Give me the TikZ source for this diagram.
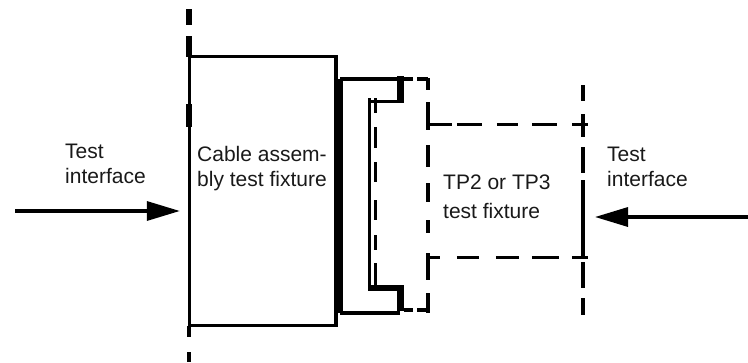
\documentclass[tikz,border=0pt]{standalone}
\usepackage{fontspec}
\setmainfont{Liberation Sans}
\usetikzlibrary{arrows.meta}
\tikzset{
  solidln/.style={line width=3.3pt},
  dashln/.style={line width=3.3pt},
  arr/.style={line width=3.3pt,-{Triangle[length=33pt,width=19pt]}},
  lbl/.style={inner sep=0pt,align=left,anchor=base west,text=black!90,font=\fontsize{21}{25}\selectfont},
  blk/.style={fill=black,draw=none},
}
\begin{document}
\begin{tikzpicture}[x=1pt,y=-1pt]
\useasboundingbox (0,0) rectangle (748,362);
% cable assembly test fixture
\node[draw,solidln,minimum width=146.5pt,minimum height=269pt,inner sep=0pt] (cab) at (262.75,191.2) {};
\node[lbl] (cabtxt) at (197,186) {Cable assem-\\bly test fixture};
% left reference plane segments
\foreach \a/\b/\w in {9/25/6,36/57/6,104/127/6,326/337/4,352/362/4}
  \draw[line width=\w pt] (189,\a) -- (189,\b);
% connector (solid)
\coordinate (c1) at (340,79);
\coordinate (c2) at (340,313);
\draw[line width=5pt] (c1) -- (c2);
\draw[solidln] (c1) -- (400,79);
\draw[solidln] (c2) -- (400,313);
\fill[blk] (396.7,75.7) rectangle (404,101.7);
\fill[blk] (396.7,285) rectangle (404,311);
\fill[blk] (368,285) rectangle (404,291);
\draw[solidln] (369.5,101.7) -- (404,101.7);
\draw[solidln] (369.5,98) -- (369.5,290);
% inner dashed
\draw[dashln,dash pattern=on 15pt off 14pt on 21pt off 14pt on 20pt off 18pt on 20pt off 15pt on 15pt off 13pt on 22pt off 100pt] (375.7,98) -- (375.7,287);
% dashed mating plug outline
\draw[dashln,dash pattern=on 9pt off 4pt on 11pt off 100pt] (404,79) -- (428,79);
\draw[dashln,dash pattern=on 9pt off 4pt on 11pt off 100pt] (404,310) -- (428,310);
\draw[dashln,dash pattern=on 12pt off 12pt on 28pt off 15pt on 22pt off 16pt on 19pt off 18pt on 13pt off 20pt on 27pt off 13pt on 20pt off 100pt] (428,78) -- (428,313);
% TP2/TP3 fixture
\node[minimum width=155pt,minimum height=132pt,inner sep=0pt] (tp) at (505.5,191) {};
\draw[dashln,dash pattern=on 24pt off 5pt on 25pt off 15pt on 21pt off 14pt on 25pt off 15pt on 16pt off 100pt] (tp.north west) -- ++(160,0);
\draw[dashln,dash pattern=on 12pt off 17pt on 22pt off 17pt on 23pt off 13pt on 27pt off 13pt on 16pt off 100pt] (tp.south west) -- ++(160,0);
\draw[dashln,dash pattern=on 16pt off 13pt on 23pt off 10pt on 26pt off 7pt on 77pt off 5pt on 26pt off 10pt on 17pt off 100pt] (583,85) -- (583,315);
\node[lbl] (tptxt) at (443,218) {TP2 or TP3\\[4pt]test fixture};
% test interfaces
\node[lbl] (ltxt) at (65,183) {Test\\interface};
\node[lbl] (rtxt) at (607,186) {Test\\interface};
\coordinate (lin) at (15,211);
\coordinate (rin) at (748,217);
\coordinate (rtip) at (595,217);
\draw[arr,shorten >=8pt] (lin) -- (lin -| cab.west);
\draw[arr] (rin) -- (rtip);
\end{tikzpicture}
\end{document}
